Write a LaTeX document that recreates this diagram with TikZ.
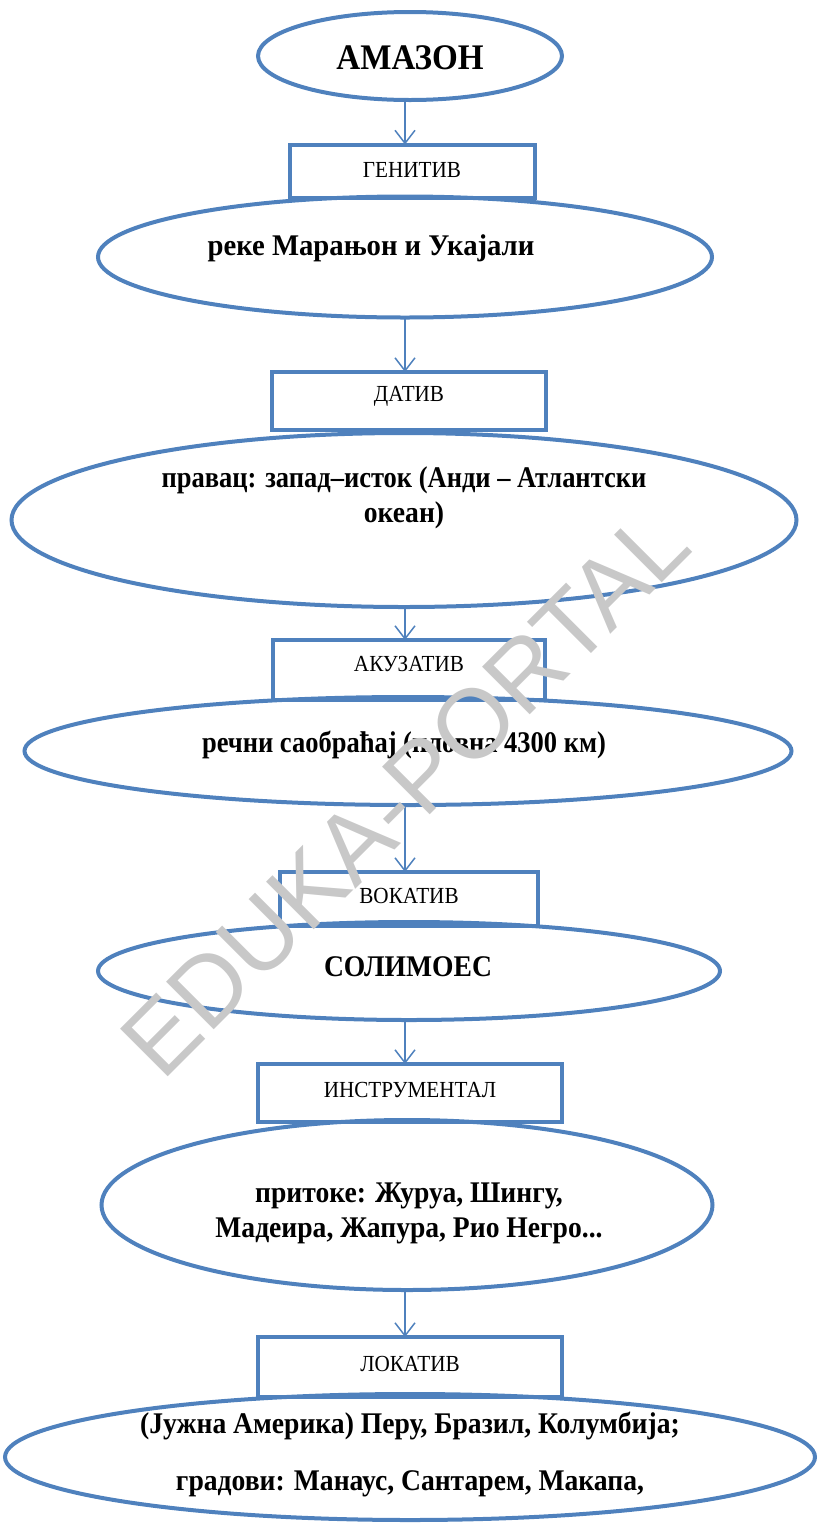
\documentclass[tikz,border=0pt]{standalone}
\usepackage{fontspec}
\setmainfont{Liberation Serif}[FakeStretch=0.92]
\newfontfamily\wmfont{Liberation Sans}
\usetikzlibrary{shapes.geometric,arrows.meta}
\definecolor{obl}{HTML}{4F81BD}
\definecolor{wmgray}{HTML}{C8C8C8}
\begin{document}
\begin{tikzpicture}[x=1pt,y=-1pt,
  ell/.style={ellipse,draw=obl,line width=4pt,inner sep=0pt,outer sep=0pt},
  casebox/.style={rectangle,draw=obl,line width=4pt,inner sep=0pt,outer sep=0pt},
  lbl/.style={font=\fontsize{23}{27}\selectfont,inner sep=0pt},
  body/.style={font=\bfseries\fontsize{30}{35}\selectfont,align=center,inner sep=0pt},
  arr/.style={draw=obl,line width=1.5pt,-{Straight Barb[length=13pt,width=20pt]}},
  wmark/.style={font=\wmfont\fontsize{98}{106}\selectfont,text=wmgray,inner sep=0pt}]
\useasboundingbox (0,0) rectangle (818,1524);
\coordinate (ax) at (405,0);

% boxes
\node[casebox,minimum width=245,minimum height=53] (b1) at (412,171) {};
\node[casebox,minimum width=274,minimum height=58] (b2) at (409,401) {};
\node[casebox,minimum width=272,minimum height=60] (b3) at (409,670) {};
\node[casebox,minimum width=258,minimum height=54] (b4) at (409,899) {};
\node[casebox,minimum width=304,minimum height=58] (b5) at (410,1093) {};
\node[casebox,minimum width=304,minimum height=60] (b6) at (410,1367) {};

% ellipses
\node[ell,minimum width=304,minimum height=88] (e1) at (410,56) {};
\node[ell,minimum width=614,minimum height=121] (e2) at (405,257) {};
\node[ell,minimum width=785,minimum height=174] (e3) at (404,520) {};
\node[ell,minimum width=767,minimum height=108] (e4) at (408,751) {};
\node[ell,minimum width=622,minimum height=98] (e5) at (409,971) {};
\node[ell,minimum width=611,minimum height=170] (e6) at (407,1205) {};
\node[ell,minimum width=810,minimum height=126] (e7) at (410,1457) {};

% texts
\node[font=\bfseries\fontsize{36}{40}\selectfont,inner sep=0pt] (t1) at (410,58) {АМАЗОН};
\node[lbl] (l1) at (412,170) {ГЕНИТИВ};
\node[body] (t2) at (371,248) {\scalebox{1.04}[1]{реке Марањон и Укајали}};
\node[lbl] (l2) at (409,396) {ДАТИВ};
\node[body] (t3) at (404,498) {\scalebox{0.96}[1]{правац: запад–исток (Анди – Атлантски}\\океан)};
\node[lbl] (l3) at (409,664) {АКУЗАТИВ};
\node[body] (t4) at (404,745) {\scalebox{0.96}[1]{речни саобраћај (пловна 4300 км)}};
\node[lbl] (l4) at (409,896) {ВОКАТИВ};
\node[body] (t5) at (408,967) {СОЛИМОЕС};
\node[lbl] (l5) at (410,1090) {ИНСТРУМЕНТАЛ};
\node[body] (t6) at (409,1213) {притоке: Журуа, Шингу,\\Мадеира, Жапура, Рио Негро...};
\node[lbl] (l6) at (410,1364) {ЛОКАТИВ};
\node[body] (t7) at (410,1454) {(Јужна Америка) Перу, Бразил, Колумбија;\\[22pt]градови: Манаус, Сантарем, Макапа,};

% arrows
\draw[arr] (ax |- e1.south) -- (ax |- b1.north);
\draw[arr] (ax |- e2.south) -- (ax |- b2.north);
\draw[arr] (ax |- e3.south) -- (ax |- b3.north);
\draw[arr] (ax |- e4.south) -- (ax |- b4.north);
\draw[arr] (ax |- e5.south) -- (ax |- b5.north);
\draw[arr] (ax |- e6.south) -- (ax |- b6.north);

% watermark
\node[wmark,rotate=45] (wm) at (405,792) {EDUKA-PORTAL};
\end{tikzpicture}
\end{document}
